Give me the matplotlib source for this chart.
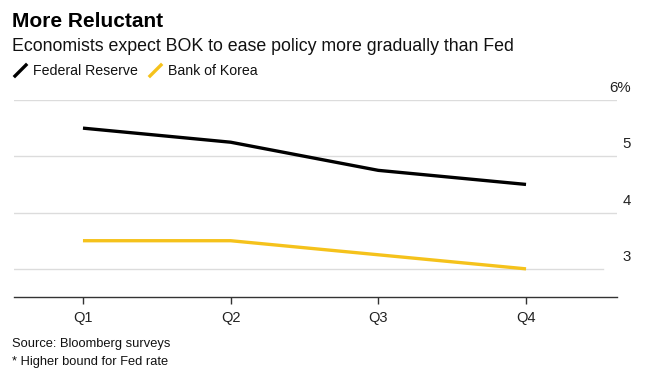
import matplotlib
matplotlib.use("Agg")
import matplotlib.pyplot as plt
from matplotlib.lines import Line2D

quarters = ["Q1", "Q2", "Q3", "Q4"]
fed = [5.5, 5.25, 4.75, 4.5]
bok = [3.5, 3.5, 3.25, 3.0]
y_ticks = [3, 4, 5, 6]
y_labels = ["3", "4", "5", "6%"]

FONT = ["Liberation Sans", "DejaVu Sans"]
plt.rcParams["font.family"] = FONT

W, H = 646, 376
fig = plt.figure(figsize=(W / 100, H / 100), dpi=100)
fig.patch.set_facecolor("white")

def fx(px):
    return px / W

def fy(py):
    return 1 - py / H

ax = fig.add_axes([fx(14), fy(297), fx(617) - fx(14), fy(100) - fy(297)])
ax.set_xlim(-0.467, 3.616)
ax.set_ylim(2.5, 6.0)
for s in ["top", "right", "left"]:
    ax.spines[s].set_visible(False)
ax.spines["bottom"].set_color("#333333")
ax.spines["bottom"].set_linewidth(1.0)

x = list(range(len(quarters)))
for yv in y_ticks:
    xmax = (603 - 14) / (617 - 14) if yv == 3 else (618 - 14) / (617 - 14)
    ax.axhline(yv, xmin=0, xmax=xmax, color="#dcdcdc", lw=1.0, zorder=1)

ax.plot(x, fed, color="#000000", lw=2.4, solid_capstyle="butt", zorder=3)
ax.plot(x, bok, color="#f5c21b", lw=2.4, solid_capstyle="butt", zorder=3)

ax.set_xticks(x)
ax.set_xticklabels(quarters, fontsize=10.5, color="#222222")
ax.tick_params(axis="x", length=5, width=1, color="#333333", pad=5)
ax.set_yticks([])

for yv, lab in zip(y_ticks, y_labels):
    py = 100 + (6 - yv) * 56.3 - 12
    fig.text(fx(631), fy(py), lab, ha="right", va="center", fontsize=10.8, color="#222222")

fig.text(fx(12), fy(27), "More Reluctant", fontsize=15, fontweight="bold",
         ha="left", va="baseline", color="#000000")
fig.text(fx(12), fy(51), "Economists expect BOK to ease policy more gradually than Fed",
         fontsize=12.8, ha="left", va="baseline", color="#111111")

# legend
def legend_item(x0, label, color):
    fig.add_artist(Line2D([fx(x0), fx(x0 + 11)], [fy(76), fy(65)], color=color, lw=2.4,
                          transform=fig.transFigure))
    fig.text(fx(x0 + 18), fy(75), label, fontsize=10.2, ha="left", va="baseline", color="#111111")

legend_item(15, "Federal Reserve", "#000000")
legend_item(150, "Bank of Korea", "#f5c21b")

fig.text(fx(12), fy(347), "Source: Bloomberg surveys", fontsize=9.3,
         ha="left", va="baseline", color="#111111")
fig.text(fx(12), fy(365), "* Higher bound for Fed rate", fontsize=9.3,
         ha="left", va="baseline", color="#111111")

fig.savefig("out.png", dpi=100, facecolor="white")
